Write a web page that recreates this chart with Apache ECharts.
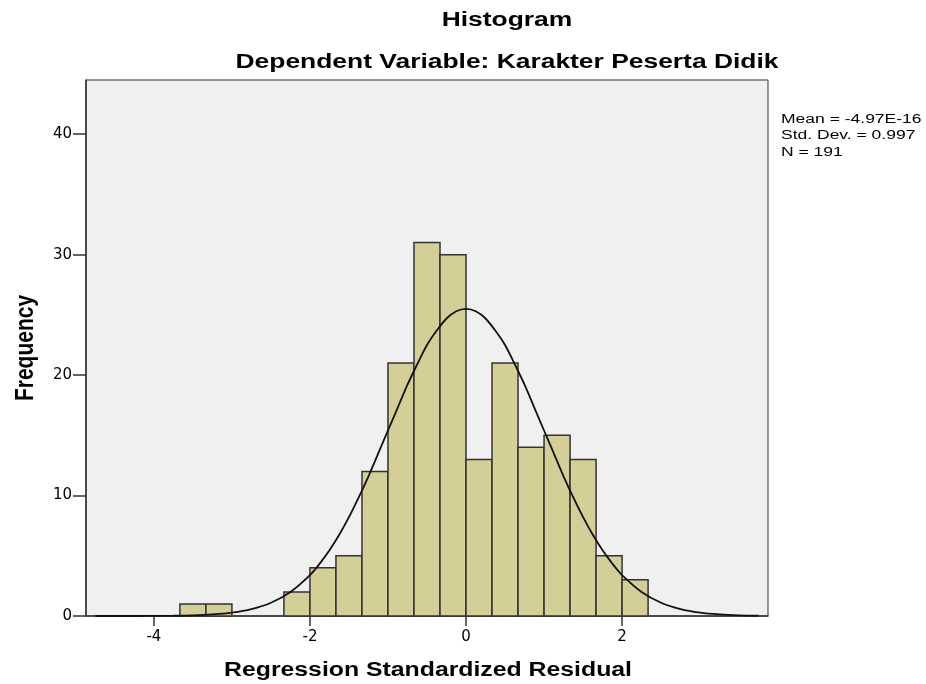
<!DOCTYPE html>
<html lang="id" style="height: 100%">
<head>
  <meta charset="utf-8">
</head>
<body style="height: 100%; margin: 0; background: #fff">
  <div id="container" style="width: 926px; height: 684px"></div>
  <script type="text/javascript" src="https://cdn.jsdelivr.net/npm/echarts@6/dist/echarts.min.js"></script>
  <script type="text/javascript">

    // batas kiri tiap batang histogram (lebar 1/3)
    var binStart = [-11/3, -10/3, -3, -8/3, -7/3, -2, -5/3, -4/3, -1, -2/3, -1/3, 0, 1/3, 2/3, 1, 4/3, 5/3, 2];
    var binWidth = 1 / 3;
    var counts = [1, 1, 0, 0, 2, 4, 5, 12, 21, 31, 30, 13, 21, 14, 15, 13, 5, 3];

    // kurva normal
    var curveX = [-4.75, -4.5, -4.25, -4, -3.75, -3.5, -3.25, -3, -2.75, -2.5, -2.25, -2,
                  -1.875, -1.75, -1.625, -1.5, -1.375, -1.25, -1.125, -1, -0.875, -0.75, -0.625, -0.5, -0.375, -0.25, -0.125,
                  0, 0.125, 0.25, 0.375, 0.5, 0.625, 0.75, 0.875, 1, 1.125, 1.25, 1.375, 1.5, 1.625, 1.75, 1.875,
                  2, 2.25, 2.5, 2.75, 3, 3.25, 3.5, 3.75];
    var curveY = [0.0, 0.0, 0.0, 0.01, 0.02, 0.05, 0.13, 0.28, 0.57, 1.1, 2.0, 3.4,
                  4.35, 5.46, 6.75, 8.21, 9.84, 11.6, 13.5, 15.4, 17.3, 19.2, 20.9, 22.5, 23.7, 24.7, 25.3,
                  25.5, 25.3, 24.7, 23.7, 22.5, 20.9, 19.2, 17.3, 15.4, 13.5, 11.6, 9.84, 8.21, 6.75, 5.46, 4.35,
                  3.4, 2.0, 1.1, 0.57, 0.28, 0.13, 0.05, 0.02];

    var xTicks = [-4, -2, 0, 2];
    var yTicks = [0, 10, 20, 30, 40];

    var mainTitle = 'Histogram';
    var subTitle = 'Dependent Variable: Karakter Peserta Didik';
    var xName = 'Regression Standardized Residual';
    var yName = 'Frequency';
    var statLines = ['Mean = -4.97E-16', 'Std. Dev. = 0.997', 'N = 191'];

    var dom = document.getElementById('container');
    var myChart = echarts.init(dom, null, { renderer: 'canvas' });

    var barData = [];
    binStart.forEach(function (b, i) {
      if (counts[i] > 0) {
        barData.push([b, b + binWidth, counts[i]]);
      }
    });

    var lineData = curveX.map(function (x, i) {
      return [x, curveY[i]];
    });

    var font = 'Liberation Sans, Arial, sans-serif';
    var stretch = 1.32; // gambar asli agak melebar ke samping

    var option = {
      animation: false,
      backgroundColor: '#ffffff',
      graphic: [
        {
          type: 'text', x: 507, y: 20, scaleX: stretch,
          style: { text: mainTitle, font: 'bold 20px ' + font, fill: '#000', textAlign: 'center', textVerticalAlign: 'middle' }
        },
        {
          type: 'text', x: 507, y: 62, scaleX: stretch,
          style: { text: subTitle, font: 'bold 20px ' + font, fill: '#000', textAlign: 'center', textVerticalAlign: 'middle' }
        },
        {
          type: 'text', x: 428, y: 670, scaleX: 1.24,
          style: { text: xName, font: 'bold 20px ' + font, fill: '#000', textAlign: 'center', textVerticalAlign: 'middle' }
        },
        {
          type: 'text', x: 26, y: 348, rotation: Math.PI / 2, scaleY: 1.25,
          style: { text: yName, font: 'bold 21px ' + font, fill: '#000', textAlign: 'center', textVerticalAlign: 'middle' }
        },
        {
          type: 'text', x: 781, y: 111, scaleX: 1.4,
          style: { text: statLines.join('\n'), font: '12.5px ' + font, lineHeight: 16.5, fill: '#000' }
        }
      ],
      grid: {
        left: 86,
        right: 158,
        top: 80,
        bottom: 68,
        show: true,
        backgroundColor: '#f0f0f0',
        borderColor: '#333',
        borderWidth: 1
      },
      xAxis: {
        type: 'value',
        min: -4.87,
        max: 3.87,
        splitLine: { show: false },
        axisLine: { onZero: false, lineStyle: { color: '#333', width: 1.5 } },
        axisTick: { show: true, length: 10, customValues: xTicks, lineStyle: { color: '#333', width: 1.5 } },
        axisLabel: { customValues: xTicks, margin: 14, fontFamily: 'DejaVu Sans', fontSize: 15, color: '#000' }
      },
      yAxis: {
        type: 'value',
        min: 0,
        max: 44.5,
        splitLine: { show: false },
        axisLine: { show: true, onZero: false, lineStyle: { color: '#333', width: 1.5 } },
        axisTick: { show: true, length: 13, customValues: yTicks, lineStyle: { color: '#333', width: 1.5 } },
        axisLabel: { customValues: yTicks, margin: 14, fontFamily: 'DejaVu Sans', fontSize: 15, color: '#000' }
      },
      series: [
        {
          type: 'custom',
          data: barData,
          encode: { x: [0, 1], y: 2 },
          renderItem: function (params, api) {
            var p0 = api.coord([api.value(0), api.value(2)]);
            var p1 = api.coord([api.value(1), 0]);
            return {
              type: 'rect',
              shape: { x: p0[0], y: p0[1], width: p1[0] - p0[0], height: p1[1] - p0[1] },
              style: { fill: '#d3cf97', stroke: '#333', lineWidth: 1.5 }
            };
          }
        },
        {
          type: 'line',
          data: lineData,
          smooth: 0.3,
          showSymbol: false,
          z: 5,
          lineStyle: { color: '#111', width: 1.8 }
        }
      ]
    };

    myChart.setOption(option);
    window.addEventListener('resize', myChart.resize);
  </script>
</body>
</html>
